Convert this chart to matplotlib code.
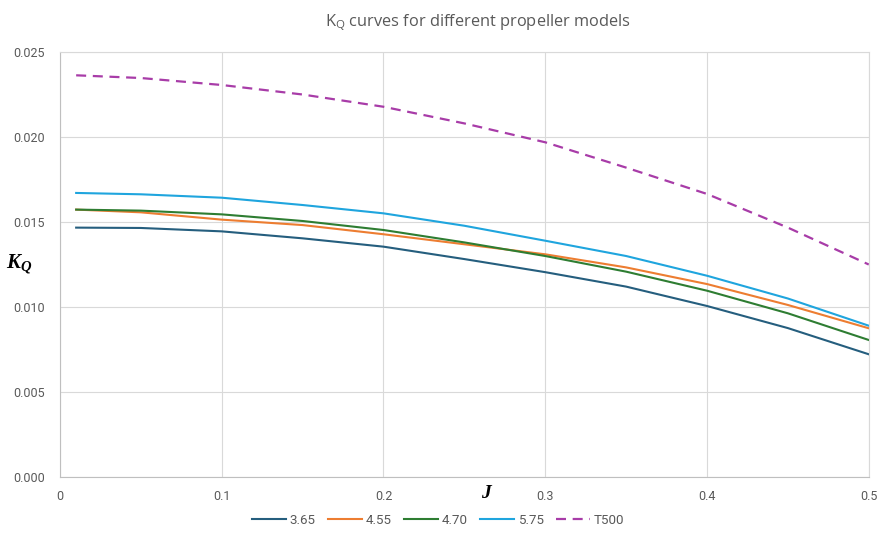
import matplotlib
matplotlib.use('Agg')
import matplotlib.pyplot as plt
import numpy as np

# advance ratio J and K_Q values
J = [0.01, 0.05, 0.10, 0.15, 0.20, 0.25, 0.30, 0.35, 0.40, 0.45, 0.50]
kq_365 = [0.01467, 0.01465, 0.01445, 0.01404, 0.01355, 0.01282, 0.01205, 0.01120, 0.01006, 0.00876, 0.00722]
kq_455 = [0.01573, 0.01557, 0.01514, 0.01482, 0.01428, 0.01369, 0.01310, 0.01233, 0.01135, 0.01012, 0.00875]
kq_470 = [0.01573, 0.01567, 0.01545, 0.01506, 0.01453, 0.01380, 0.01300, 0.01208, 0.01096, 0.00963, 0.00806]
kq_575 = [0.01671, 0.01663, 0.01643, 0.01600, 0.01551, 0.01478, 0.01390, 0.01300, 0.01184, 0.01050, 0.00890]
kq_t500 = [0.02363, 0.02347, 0.02306, 0.02250, 0.02178, 0.02080, 0.01969, 0.01820, 0.01665, 0.01467, 0.01250]

labels = ['3.65', '4.55', '4.70', '5.75', 'T500']
colors = ['#255e7e', '#ed7d31', '#2e7d32', '#1fa5de', '#a83ca8']
x_ticks = [0, 0.1, 0.2, 0.3, 0.4, 0.5]
x_tick_labels = ['0', '0.1', '0.2', '0.3', '0.4', '0.5']
y_ticks = [0.000, 0.005, 0.010, 0.015, 0.020, 0.025]

plt.rcParams['font.family'] = ['Roboto', 'DejaVu Sans']
plt.rcParams['mathtext.fontset'] = 'custom'
plt.rcParams['mathtext.it'] = 'Liberation Serif:italic:bold'
plt.rcParams['mathtext.rm'] = 'Liberation Serif:bold'

fig = plt.figure(figsize=(8.82, 5.39), dpi=100)
ax = fig.add_axes([0.068, 0.115, 0.917, 0.7885])

series = [kq_365, kq_455, kq_470, kq_575]
for vals, lab, col in zip(series, labels[:4], colors[:4]):
    ax.plot(J, vals, color=col, linewidth=1.5, label=lab)
ax.plot(J, kq_t500, color=colors[4], linewidth=1.6, linestyle=(0, (4.5, 3)), label=labels[4])

ax.set_xlim(0, 0.5); ax.set_ylim(0, 0.025)
ax.set_xticks(x_ticks); ax.set_xticklabels(x_tick_labels)
ax.set_yticks(y_ticks); ax.set_yticklabels([f'{v:.3f}' for v in y_ticks])
ax.tick_params(length=0, labelsize=9, labelcolor='#595959')
ax.tick_params(axis='x', pad=9); ax.tick_params(axis='y', pad=11)
ax.grid(True, color='#d9d9d9', linewidth=0.8)
ax.set_axisbelow(True)
for s in ['top', 'right']:
    ax.spines[s].set_color('#d9d9d9'); ax.spines[s].set_linewidth(0.8)
for s in ['left', 'bottom']:
    ax.spines[s].set_color('#bfbfbf'); ax.spines[s].set_linewidth(0.8)

ax.text(-0.034, 0.5, r'$K_Q$', transform=ax.transAxes, fontsize=15,
        ha='right', va='center')
ax.text(0.528, -0.037, r'$J$', transform=ax.transAxes, fontsize=14,
        ha='center', va='center')

fig.suptitle(r'K$_\mathregular{Q}$ curves for different propeller models', x=0.542, y=0.977,
             fontsize=11.8, color='#595959', family=['Open Sans', 'DejaVu Sans'])

fig.legend(loc='center', bbox_to_anchor=(0.497, 0.035), ncol=5, frameon=False,
           fontsize=9.6, labelcolor='#595959', handlelength=2.5, handletextpad=0.3,
           columnspacing=0.95)

fig.savefig('out.png', dpi=100)
